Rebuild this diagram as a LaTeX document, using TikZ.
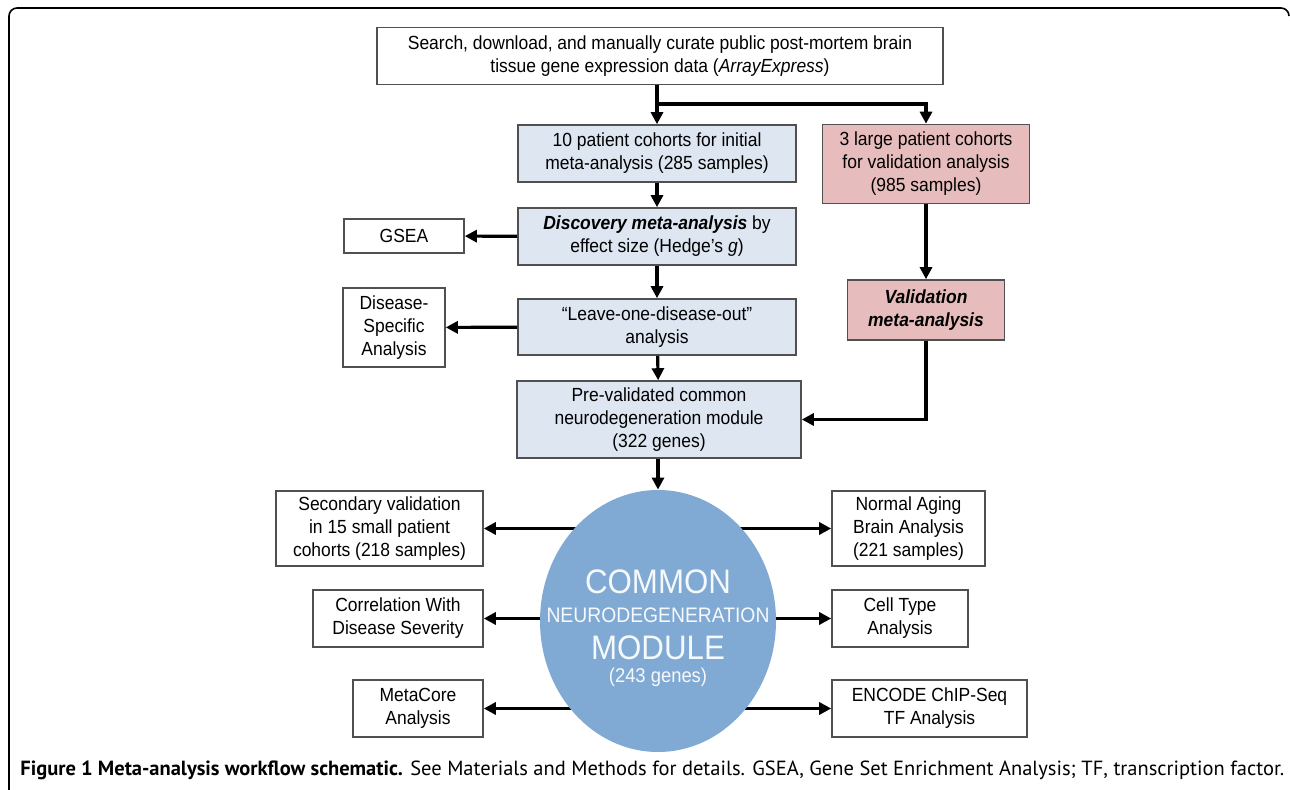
\documentclass[tikz,border=0pt]{standalone}
\usepackage{fontspec}
\setmainfont{Liberation Sans}[FakeStretch=0.92]
\newfontfamily\capfont{PT Sans}
\usetikzlibrary{arrows.meta,shapes.geometric,backgrounds}

\definecolor{flowblue}{RGB}{221,230,241}
\definecolor{flowred}{RGB}{231,188,188}
\definecolor{modblue}{RGB}{128,169,211}
\definecolor{boxgray}{RGB}{80,80,80}

\begin{document}
\begin{tikzpicture}[x=0.5pt,y=-0.5pt,
    box/.style={draw=boxgray, line width=0.8pt, align=center, inner sep=2pt,
        font=\fontsize{9.5}{11.5}\selectfont},
    bluebox/.style={box, fill=flowblue},
    redbox/.style={box, fill=flowred},
    modlabel/.style={inner sep=0pt, text=white!93!modblue},
    arr/.style={-{Triangle[length=6pt,width=6pt]}, line width=1.6pt}]
    \useasboundingbox (0,0) rectangle (1290,790);

    % Frame
    \draw[line width=0.8pt, rounded corners=4pt] (9,800) -- (9,8) -- (1289,8) -- (1289,16);

    % Main column
    \node[box, minimum width=283pt, minimum height=28.5pt] (search) at (660,56)
        {Search, download, and manually curate public post-mortem brain\\tissue gene expression data (\textit{ArrayExpress})};
    \node[bluebox, minimum width=139pt, minimum height=28.5pt] (cohorts) at (657,153.5)
        {10 patient cohorts for initial\\meta-analysis (285 samples)};
    \node[bluebox, minimum width=139pt, minimum height=28.5pt] (discovery) at (657,236.5)
        {\textbf{\textit{Discovery meta-analysis}} by\\effect size (Hedge's \textit{g})};
    \node[bluebox, minimum width=139pt, minimum height=28pt] (leaveout) at (657,327)
        {``Leave-one-disease-out''\\analysis};
    \node[bluebox, minimum width=142pt, minimum height=38.5pt] (prevalid) at (659,419.5)
        {Pre-validated common\\neurodegeneration module\\(322 genes)};

    % Validation column
    \node[redbox, minimum width=103.5pt, minimum height=39.5pt] (largecoh) at (926,164)
        {3 large patient cohorts\\for validation analysis\\(985 samples)};
    \node[redbox, minimum width=78.5pt, minimum height=30pt] (validation) at (926,310)
        {\textbf{\textit{Validation}}\\\textbf{\textit{meta-analysis}}};

    % Side analyses
    \node[box, minimum width=60pt, minimum height=17pt] (gsea) at (404,236) {GSEA};
    \node[box, minimum width=51pt, minimum height=39.5pt] (specific) at (394,327.5)
        {Disease-\\Specific\\Analysis};

    % Module
    \node[ellipse, fill=modblue, minimum width=118pt, minimum height=131pt, inner sep=0pt]
        (module) at (658,621) {};
    \node[modlabel, font=\fontsize{17}{19}\selectfont] (common) at (658,582) {COMMON};
    \node[modlabel, font=\fontsize{10.5}{12}\selectfont] (neuro) at (658,615) {NEURODEGENERATION};
    \node[modlabel, font=\fontsize{17}{19}\selectfont] (modword) at (658,648) {MODULE};
    \node[modlabel, font=\fontsize{10}{12}\selectfont] (genes) at (658,677) {(243 genes)};

    \node[box, minimum width=103.5pt, minimum height=37.5pt] (secondary) at (379.5,528.5)
        {Secondary validation\\in 15 small patient\\cohorts (218 samples)};
    \node[box, minimum width=85pt, minimum height=28.5pt] (severity) at (398,618.5)
        {Correlation With\\Disease Severity};
    \node[box, minimum width=65pt, minimum height=28.5pt] (metacore) at (418,708.5)
        {MetaCore\\Analysis};
    \node[box, minimum width=76.5pt, minimum height=37.5pt] (aging) at (908.5,528.5)
        {Normal Aging\\Brain Analysis\\(221 samples)};
    \node[box, minimum width=68pt, minimum height=28.5pt] (celltype) at (900,618.5)
        {Cell Type\\Analysis};
    \node[box, minimum width=97.5pt, minimum height=28.5pt] (encode) at (929.5,708.5)
        {ENCODE ChIP-Seq\\TF Analysis};

    % Arrows
    \coordinate (split) at (657,104);
    \draw[arr] (search.south -| cohorts.north) -- (cohorts.north);
    \draw[arr] (split) -| (largecoh.north);
    \draw[arr] (cohorts) -- (discovery);
    \draw[arr] (discovery) -- (leaveout);
    \draw[arr] (leaveout) -- (prevalid);
    \draw[arr] (discovery) -- (gsea);
    \draw[arr] (leaveout) -- (specific);
    \draw[arr] (largecoh) -- (validation);
    \draw[arr] (validation.south) |- (prevalid.east);
    \draw[arr] (prevalid.south -| module.north) -- (module.north);

    \begin{scope}[on background layer]
        \foreach \target in {secondary,severity,metacore,aging,celltype,encode}
            \draw[arr] (module.center |- \target.center) -- (\target);
    \end{scope}

    % Caption
    \node[anchor=base west, inner sep=0pt, font=\capfont\fontsize{10.25}{12}\selectfont] (caption) at (20,775)
        {\textbf{Figure 1 Meta-analysis workflow schematic.} See Materials and Methods for details. GSEA, Gene Set Enrichment Analysis; TF, transcription factor.};
\end{tikzpicture}
\end{document}
